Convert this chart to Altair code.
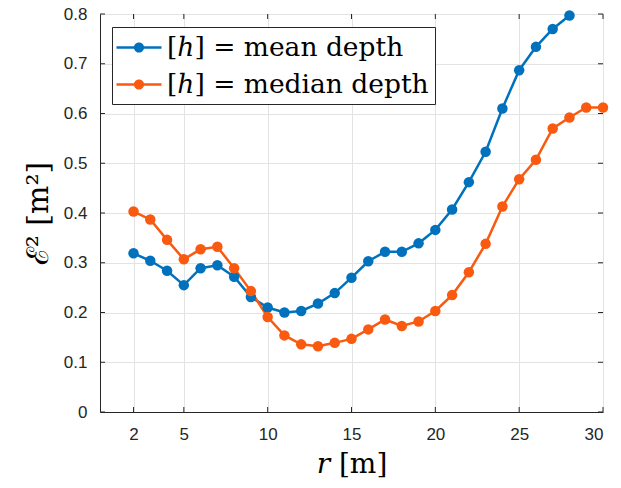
import altair as alt
import pandas as pd

r_mean = list(range(2, 29))
mean_vals = [0.319, 0.304, 0.284, 0.255, 0.289, 0.295, 0.272, 0.231, 0.210, 0.200,
             0.203, 0.218, 0.239, 0.270, 0.303, 0.322, 0.322, 0.339, 0.366, 0.407,
             0.462, 0.523, 0.610, 0.687, 0.734, 0.770, 0.797]
r_median = list(range(2, 31))
median_vals = [0.403, 0.387, 0.346, 0.307, 0.327, 0.332, 0.289, 0.243, 0.191, 0.154,
               0.136, 0.132, 0.139, 0.147, 0.166, 0.186, 0.173, 0.182, 0.203, 0.235,
               0.281, 0.338, 0.413, 0.468, 0.507, 0.570, 0.592, 0.612, 0.612]
series_names = ["[ℎ] = mean depth", "[ℎ] = median depth"]
series_colors = ["#0072BD", "#F95A0F"]
x_ticks = [2, 5, 10, 15, 20, 25, 30]
y_ticks = [0, 0.1, 0.2, 0.3, 0.4, 0.5, 0.6, 0.7, 0.8]

W, H = 503, 398

df = pd.concat([
    pd.DataFrame({"r": r_mean, "E": mean_vals, "s": series_names[0]}),
    pd.DataFrame({"r": r_median, "E": median_vals, "s": series_names[1]}),
])
xt = pd.DataFrame({"t": x_ticks})
yt = pd.DataFrame({"t": y_ticks})

sym = ("M-1.5,-0.085 L1.5,-0.085 L1.5,0.085 L-1.5,0.085 Z "
       "M0.34,0 A0.34,0.34 0 1,1 -0.34,0 A0.34,0.34 0 1,1 0.34,0 Z")

color = alt.Color("s:N", scale=alt.Scale(domain=series_names, range=series_colors),
                  legend=alt.Legend(title=None, orient="none", legendX=12, legendY=13,
                                    symbolType=sym, symbolSize=900, symbolStrokeWidth=0,
                                    labelFont="DejaVu Serif", labelFontSize=26.5,
                                    labelColor="#000000", labelLimit=400,
                                    strokeColor="#262626", fillColor="white",
                                    padding=5.5, rowPadding=8, labelOffset=13,
                                    symbolOffset=6.5, cornerRadius=0))

xscale = alt.Scale(domain=[0, 30], nice=False)
yscale = alt.Scale(domain=[0, 0.8], nice=False)

x = alt.X("r:Q", scale=xscale,
          axis=alt.Axis(values=x_ticks, title="𝑟 [m]", titleFont="DejaVu Serif",
                        titleFontSize=28, titleFontWeight="normal",
                        titleColor="#000000", titlePadding=8,
                        labelFont="Liberation Sans", labelFontSize=17, labelColor="#262626",
                        labelPadding=14, ticks=False, grid=True, gridColor="#e3e3e3",
                        domainColor="#262626"))
y = alt.Y("E:Q", scale=yscale,
          axis=alt.Axis(values=y_ticks, title="ℰ² [m²]", titleFont="DejaVu Serif",
                        titleFontSize=30, titleFontWeight="normal", titleColor="#000000",
                        titlePadding=10, format="~g",
                        labelFont="Liberation Sans", labelFontSize=17, labelColor="#262626",
                        labelPadding=13, ticks=False, grid=True, gridColor="#e3e3e3",
                        domainColor="#262626"))

tick_color = "#262626"
xb = alt.Chart(xt).mark_rule(color=tick_color, strokeWidth=1).encode(
    x=alt.X("t:Q", scale=xscale), y=alt.value(H), y2=alt.value(H - 5))
xtop = alt.Chart(xt).mark_rule(color=tick_color, strokeWidth=1).encode(
    x=alt.X("t:Q", scale=xscale), y=alt.value(0), y2=alt.value(5))
yl = alt.Chart(yt).mark_rule(color=tick_color, strokeWidth=1).encode(
    y=alt.Y("t:Q", scale=yscale), x=alt.value(0), x2=alt.value(5))
yr = alt.Chart(yt).mark_rule(color=tick_color, strokeWidth=1).encode(
    y=alt.Y("t:Q", scale=yscale), x=alt.value(W), x2=alt.value(W - 5))

line = alt.Chart(df).mark_line(strokeWidth=2.5).encode(x=x, y=y, color=color, detail="s:N")
pts = alt.Chart(df).mark_point(filled=True, size=110, opacity=1).encode(x=x, y=y, color=color)

chart = alt.layer(line, pts, xb, xtop, yl, yr).properties(
    width=W, height=H,
    autosize=alt.AutoSizeParams(type="none"),
    padding={"left": 100, "top": 14, "right": 18, "bottom": 76},
).configure_view(stroke="#262626", strokeWidth=1).configure(background="white")

chart.save("out.html", embed_options={"renderer": "svg", "actions": False})
